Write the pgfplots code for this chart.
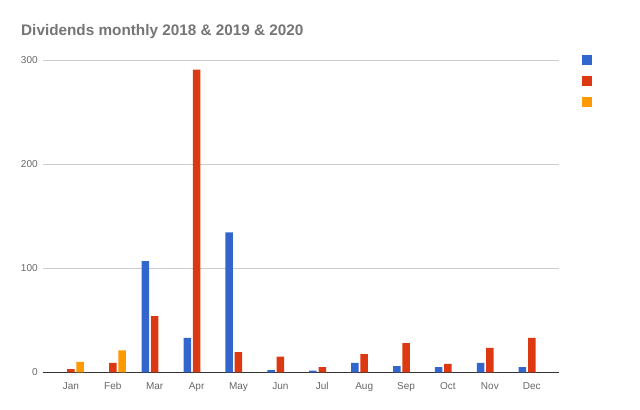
\documentclass[border=0pt]{standalone}
\usepackage{pgfplots}
\pgfplotsset{compat=1.18}
\usepackage{fontspec}
\setmainfont{Liberation Sans}
\definecolor{gblue}{HTML}{3366CC}
\definecolor{gred}{HTML}{DC3912}
\definecolor{gorange}{HTML}{FF9900}
\definecolor{titlegray}{HTML}{757575}
\definecolor{tickgray}{HTML}{666666}
\definecolor{gridgray}{HTML}{CCCCCC}
\definecolor{basegray}{HTML}{333333}
\begin{document}
\begin{tikzpicture}
\path[use as bounding box] (0,0) rectangle (640bp,410bp);
\node[anchor=base west, inner sep=0pt, text=titlegray, font=\fontsize{15.3bp}{17bp}\selectfont\bfseries] at (21bp,374bp) {Dividends monthly 2018 \& 2019 \& 2020};
\begin{axis}[
  at={(42.7bp,37.7bp)}, anchor=south west,
  scale only axis,
  width=516.3bp, height=312bp,
  ybar,
  bar width=7.5bp,
  xmin=-0.673, xmax=11.65,
  ymin=0, ymax=300,
  xtick={0,...,11},
  xticklabels={Jan,Feb,Mar,Apr,May,Jun,Jul,Aug,Sep,Oct,Nov,Dec},
  ytick={100,200,300},
  extra y ticks={0},
  extra y tick style={grid style={draw=basegray, line width=0.9bp}},
  ymajorgrids,
  grid style={draw=gridgray, line width=0.8bp},
  axis line style={draw=none},
  tick style={draw=none},
  ticklabel style={text=tickgray, font=\fontsize{10bp}{12bp}\selectfont},
  yticklabel style={anchor=east, xshift=-1.5bp},
  xticklabel style={anchor=north, yshift=-2.5bp},
  /pgf/number format/assume math mode=true,
  clip=false,
  legend style={at={(1.044,1.017)}, anchor=north west, draw=none, fill=none,
    inner sep=0pt, outer sep=0pt, row sep=11bp, nodes={inner sep=0pt, outer sep=0pt}},
  legend image code/.code={\fill[#1, draw=none] (0bp,-5bp) rectangle (10bp,5bp);},
]
\addplot[fill=gblue, draw=none, bar shift=-9.3bp] coordinates {
  (2,107) (3,33) (4,134.6) (5,2) (6,1.5) (7,9) (8,6) (9,5) (10,9) (11,5)};
\addlegendentry{\mbox{}}
\addplot[fill=gred, draw=none, bar shift=0bp] coordinates {
  (0,3) (1,9) (2,54) (3,291) (4,19.5) (5,15) (6,5) (7,17.5) (8,28) (9,8) (10,23.5) (11,33)};
\addlegendentry{\mbox{}}
\addplot[fill=gorange, draw=none, bar shift=9.3bp] coordinates {
  (0,10) (1,21)};
\addlegendentry{\mbox{}}
\end{axis}
\end{tikzpicture}
\end{document}
